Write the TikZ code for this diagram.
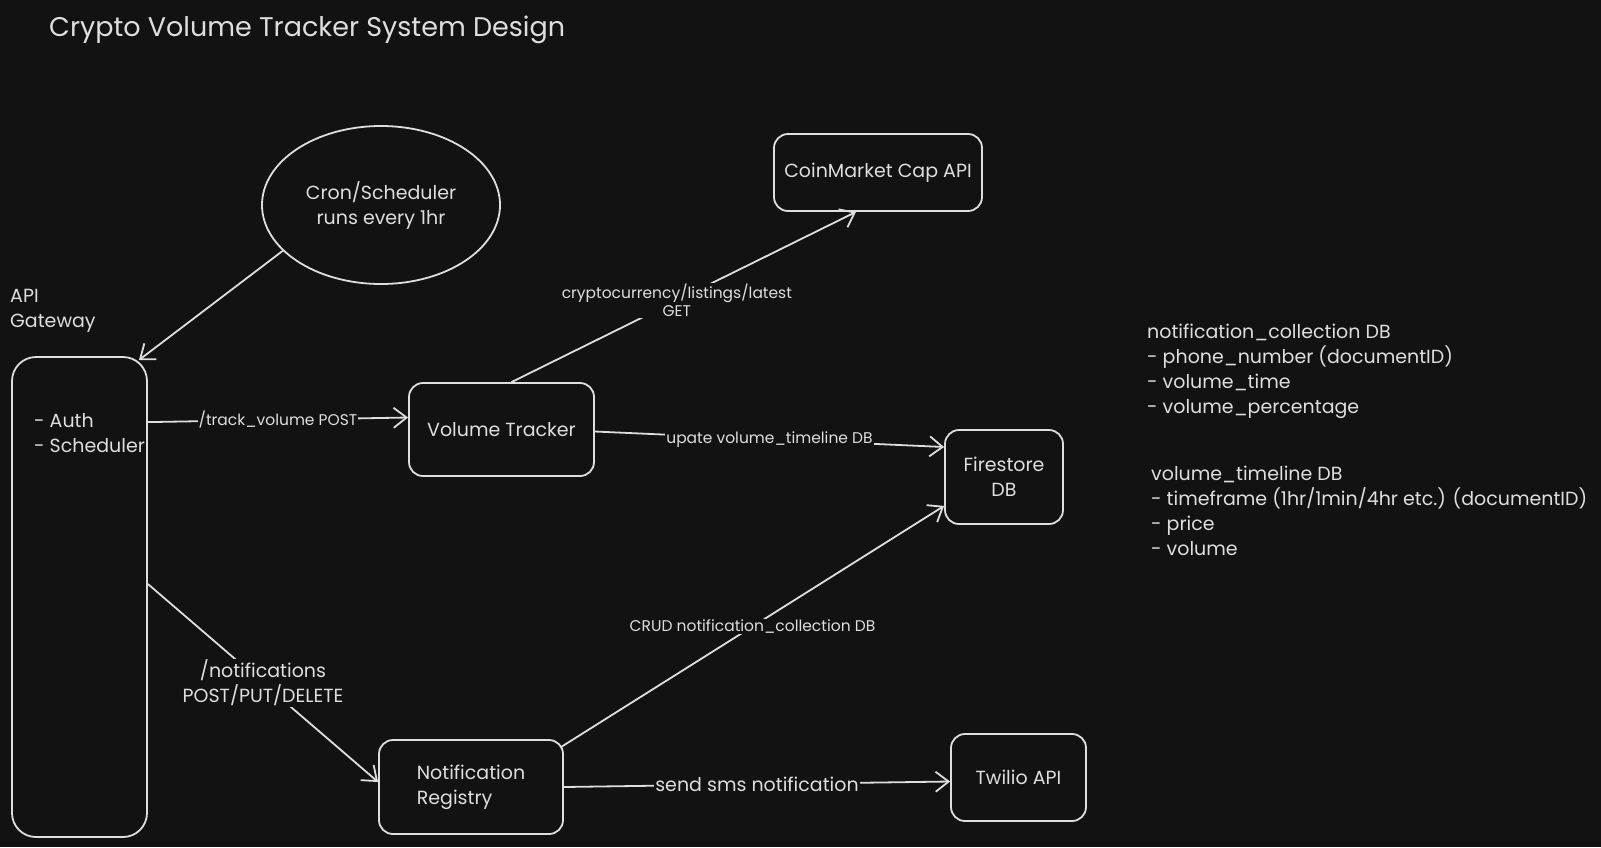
\documentclass[tikz,border=0pt]{standalone}
\usepackage{fontspec}
\setmainfont{Poppins}
\usetikzlibrary{shapes.geometric,arrows.meta}
\definecolor{bgdark}{HTML}{121212}
\definecolor{inkgray}{HTML}{DEDEDE}
\begin{document}
\begin{tikzpicture}[x=1pt,y=-1pt,
	box/.style={draw=inkgray,line width=1.8pt,rounded corners=14pt,inner sep=0pt},
	txt/.style={text=inkgray,font=\fontsize{19}{25}\selectfont,inner sep=0pt},
	lbl/.style={text=inkgray,font=\fontsize{15.5}{18}\selectfont,fill=bgdark,inner sep=1pt,align=center},
	biglbl/.style={lbl,font=\fontsize{19}{25}\selectfont},
	flow/.style={draw=inkgray,line width=1.8pt,-{Straight Barb[length=13pt,width=20pt,line width=1.8pt]}}]
		% Bakgrunn
		\fill[bgdark] (0,0) rectangle (1601,847);
		\useasboundingbox (0,0) rectangle (1601,847);
		% Tittel
		\node[txt,anchor=west,font=\fontsize{27}{30}\selectfont] (title) at (49,30) {Crypto Volume Tracker System Design};
		% Cron
		\node[draw=inkgray,line width=1.8pt,ellipse,minimum width=238pt,minimum height=158pt,txt,align=center] (cron) at (381,205) {Cron/Scheduler\\runs every 1hr};
		% API Gateway
		\node[txt,anchor=west,align=left] (gwname) at (10,311) {API\\Gateway};
		\node[box,rounded corners=24pt,minimum width=135pt,minimum height=480pt] (gw) at (79.5,597) {};
		\node[txt,anchor=west,align=left] (gwtxt) at (34,433) {- Auth\\- Scheduler};
		% Tjenester
		\node[box,minimum width=185pt,minimum height=93pt,txt] (vt) at (501.5,429.5) {Volume Tracker};
		\node[box,minimum width=208pt,minimum height=77pt,txt] (cmc) at (878,172.5) {CoinMarket Cap API};
		\node[box,minimum width=118pt,minimum height=94pt,txt,align=center] (fs) at (1004,477) {Firestore\\DB};
		\node[box,minimum width=184pt,minimum height=94pt,txt,align=left] (nr) at (471,787) {Notification\\Registry};
		\node[box,minimum width=135pt,minimum height=87pt,txt] (tw) at (1018.5,777.5) {Twilio API};
		% Skjema
		\node[txt,anchor=west,align=left] (ncdb) at (1147,371) {notification\_collection DB\\- phone\_number (documentID)\\- volume\_time\\- volume\_percentage};
		\node[txt,anchor=west,align=left] (vtdb) at (1151,511) {volume\_timeline DB\\- timeframe (1hr/1min/4hr etc.) (documentID)\\- price\\- volume};
		% Piler
		\draw[flow] (cron.205) -- ([xshift=-9pt,yshift=-4pt]gw.north east);
		\draw[flow] ([yshift=-66pt]gw.north east) -- node[lbl] {/track\_volume POST} ([yshift=12pt]vt.west);
		\draw[flow] ([xshift=10pt]vt.north) -- node[lbl,pos=0.48] {cryptocurrency/listings/latest\\GET} ([xshift=-22pt]cmc.south);
		\draw[flow] ([yshift=-2pt]vt.east) -- node[lbl] {upate volume\_timeline DB} ([yshift=30pt]fs.west);
		\draw[flow] ([yshift=13pt]gw.east) -- node[biglbl] {/notifications\\POST/PUT/DELETE} ([yshift=5pt]nr.west);
		\draw[flow] ([xshift=-3pt,yshift=-8pt]nr.north east) -- node[lbl] {CRUD notification\_collection DB} ([yshift=19pt]fs.south west);
		\draw[flow] (nr.east) -- node[biglbl] {send sms notification} ([yshift=-4pt]tw.west);
	\end{tikzpicture}
\end{document}
